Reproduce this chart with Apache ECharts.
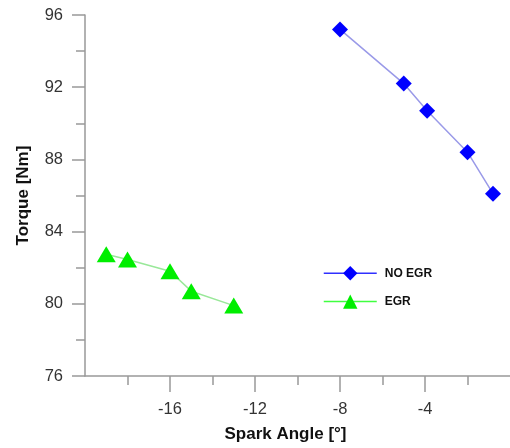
<!DOCTYPE html>
<html>
<head>
<meta charset="utf-8">
<script src="https://cdn.jsdelivr.net/npm/echarts@6/dist/echarts.min.js"></script>
<style>html,body{margin:0;padding:0;background:#fff;}#c{width:510px;height:448px;}</style>
</head>
<body>
<div id="c"></div>
<script>
var noEgrX = [-8, -5, -3.9, -2, -0.8];
var noEgrY = [95.2, 92.2, 90.7, 88.4, 86.1];
var egrX = [-19, -18, -16, -15, -13];
var egrY = [82.75, 82.45, 81.8, 80.7, 79.9];
var xTickLabels = [-16, -12, -8, -4];
var yTickLabels = [76, 80, 84, 88, 92, 96];
var seriesNames = ['NO EGR', 'EGR'];
var xTitle = 'Spark Angle [°]';
var yTitle = 'Torque [Nm]';

function pairs(xs, ys) { return xs.map(function (x, i) { return [x, ys[i]]; }); }

var FONT = 'Arial, "Liberation Sans", sans-serif';
var chart = echarts.init(document.getElementById('c'), null, {renderer: 'canvas'});
chart.setOption({
  animation: false,
  backgroundColor: '#fff',
  grid: {left: 85, right: -2, top: 15, bottom: 69, containLabel: false},
  xAxis: {
    type: 'value', min: -20, max: 0, interval: 4,
    name: xTitle, nameLocation: 'middle', nameGap: 50,
    nameTextStyle: {fontFamily: FONT, fontWeight: 'bold', fontSize: 17, color: '#111', padding: [0, 24, 0, 0]},
    axisLine: {show: true, onZero: false, lineStyle: {color: '#999', width: 1.5}},
    axisTick: {show: true, length: 16, lineStyle: {color: '#999', width: 1.5}, customValues: xTickLabels},
    minorTick: {show: true, splitNumber: 2, length: 9, lineStyle: {color: '#999', width: 1.5}},
    axisLabel: {fontFamily: FONT, fontSize: 16.5, color: '#333', margin: 25, customValues: xTickLabels},
    splitLine: {show: false}, minorSplitLine: {show: false}
  },
  yAxis: {
    type: 'value', min: 76, max: 96, interval: 4,
    name: yTitle, nameLocation: 'middle', nameGap: 53, nameRotate: 90,
    nameTextStyle: {fontFamily: FONT, fontWeight: 'bold', fontSize: 17, color: '#111'},
    axisLine: {show: true, onZero: false, lineStyle: {color: '#999', width: 1.5}},
    axisTick: {show: true, length: 13, lineStyle: {color: '#999', width: 1.5}},
    minorTick: {show: true, splitNumber: 2, length: 9, lineStyle: {color: '#999', width: 1.5}},
    axisLabel: {fontFamily: FONT, fontSize: 16.5, color: '#333', margin: 22, padding: [4, 0, 0, 0],
      formatter: function (v) { return yTickLabels.indexOf(v) >= 0 ? String(v) : ''; }},
    splitLine: {show: false}, minorSplitLine: {show: false}
  },
  legend: {
    orient: 'vertical', left: 323, top: 266, padding: 0, itemWidth: 53, itemHeight: 18, itemGap: 14,
    textStyle: {fontFamily: FONT, fontWeight: 'bold', fontSize: 12, color: '#111', padding: [0, 0, 0, 3]},
    data: [
      {name: seriesNames[0], lineStyle: {color: '#3030ff', width: 1.5}},
      {name: seriesNames[1], lineStyle: {color: '#40ff40', width: 1.5}}
    ]
  },
  series: [
    {
      name: seriesNames[0], type: 'line', data: pairs(noEgrX, noEgrY),
      symbol: 'diamond', symbolSize: 16,
      itemStyle: {color: '#0000ff'},
      lineStyle: {color: '#9a9ae8', width: 1.5}
    },
    {
      name: seriesNames[1], type: 'line', data: pairs(egrX, egrY),
      symbol: 'triangle', symbolSize: [19, 16],
      itemStyle: {color: '#00ee00'},
      lineStyle: {color: '#99e899', width: 1.5}
    }
  ]
});
</script>
</body>
</html>
